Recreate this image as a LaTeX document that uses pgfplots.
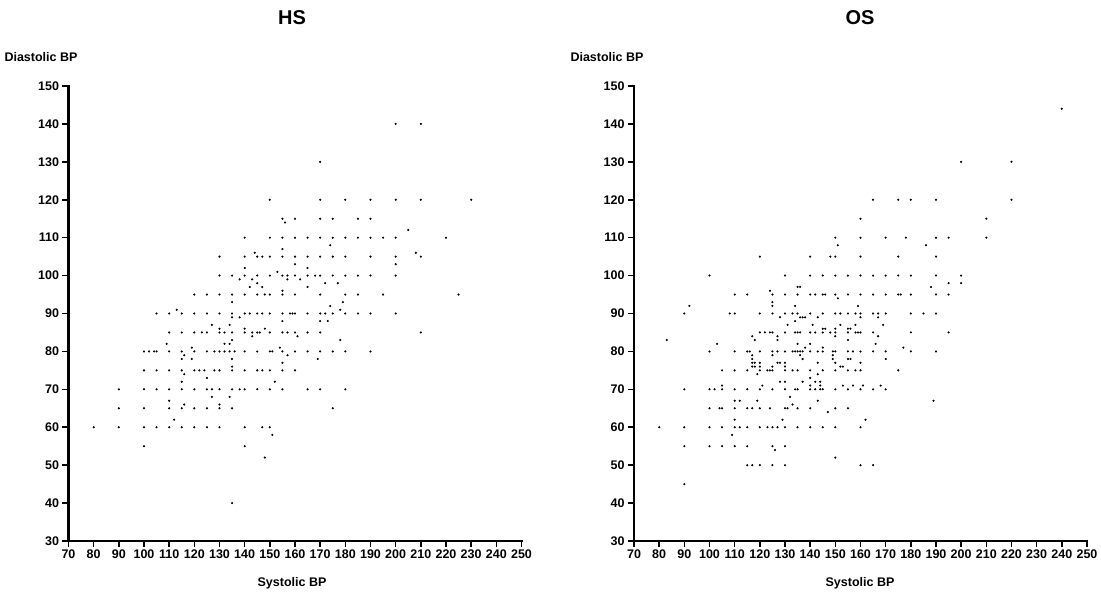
\documentclass[border=0pt]{standalone}
\usepackage{fontspec}
\setmainfont{Liberation Sans}
\usepackage{pgfplots}
\pgfplotsset{compat=1.18}
\begin{document}
\begin{tikzpicture}[x=1pt,y=1pt]
\useasboundingbox (0,0) rectangle (1101,597);
\pgfplotsset{
 bp/.style={
  scale only axis, width=453pt, height=455pt,
  xmin=70,xmax=250,ymin=30,ymax=150,
  xtick={70,80,...,250}, ytick={30,40,...,150},
  axis x line*=bottom, axis y line*=left,
  axis line style={-, line width=2.6pt, line cap=rect},
  tick style={line width=1.6pt, black},
  major tick length=6pt, tick align=outside,
  tick label style={font=\bfseries\fontsize{12.5}{13}\selectfont},
  xticklabel style={yshift=1pt},
  /pgf/number format/assume math mode=true,
  clip=false,
 },
 pts/.style={only marks, mark=*, mark size=0.85pt, black},
}
\begin{axis}[bp, at={(68.5pt,56pt)}, anchor=south west]
\addplot[pts] coordinates {
(130,105)(130,100)(120,95)(125,95)(130,95)(105,90)(110,90)(113,91)(115,90)(120,90)(125,90)(130,90)
(170,130)(150,120)(170,120)(180,120)
(155,115)(160,115)(170,115)(175,115)(185,115)(156,114)
(140,110)(150,110)(155,110)(160,110)(165,110)(170,110)(175,110)(180,110)(185,110)
(174,108)(155,107)
(140,105)(145,105)(147,105)(144,106)(150,105)(155,105)(160,105)(165,105)(170,105)(175,105)(180,105)
(160,103)(140,102)(165,102)
(135,100)(140,100)(145,100)(150,100)(155,100)(157,100)(160,100)(165,100)(168,100)(170,100)(175,100)(180,100)(185,100)
(153,101)(138,99)(143,99)(157,99)(162,99)(145,98)(172,98)(177,98)(142,97)(147,97)(165,97)(155,96)
(135,95)(140,95)(145,95)(148,95)(150,95)(155,95)(160,95)(170,95)(180,95)(185,95)
(135,93)(179,93)(174,92)(178,91)
(135,90)(140,90)(142,90)(145,90)(147,90)(150,90)(155,90)(158,90)(159,90)(160,90)(165,90)(170,90)(172,90)(175,90)(180,90)(185,90)
(135,89)(138,89)
(200,140)(210,140)(190,120)(200,120)(210,120)(230,120)(190,115)(205,112)(190,110)(195,110)(200,110)(220,110)
(208,106)(190,105)(200,105)(210,105)(200,103)(190,100)(200,100)(195,95)(225,95)(190,90)(200,90)
(127,87)(110,85)(115,85)(120,85)(123,85)(125,85)(130,85)(109,82)
(100,80)(102,80)(104,80)(105,80)(110,80)(115,80)(120,80)(125,80)(128,80)(119,81)(116,79)(115,78)(119,78)
(100,75)(105,75)(110,75)(115,75)(116,74)(120,75)(122,75)(124,75)(128,75)(125,73)(115,72)
(90,70)(100,70)(105,70)(110,70)(115,70)(120,70)(125,70)(127,70)(130,70)(127,68)(110,67)
(90,65)(100,65)(110,65)(115,65)(120,65)(125,65)(130,65)(116,66)(130,66)(112,62)
(80,60)(90,60)(100,60)(105,60)(110,60)(115,60)(120,60)(125,60)(130,60)(100,55)
(134,87)(155,88)(170,88)(173,88)(140,86)(148,86)
(132,85)(135,85)(140,85)(143,85)(145,85)(146,85)(150,85)(155,85)(157,85)(160,85)(165,85)(170,85)
(130,86)(143,84)(161,84)(135,83)(178,83)(132,82)(134,82)(154,81)
(130,80)(132,80)(134,80)(136,80)(140,80)(145,80)(150,80)(151,80)(155,80)(160,80)(165,80)(170,80)(175,80)(180,80)
(157,79)(135,78)(169,78)(155,77)(135,76)
(130,75)(135,75)(140,75)(145,75)(147,75)(150,75)(155,75)(160,75)
(152,72)
(135,70)(138,70)(140,70)(145,70)(150,70)(155,70)(165,70)(170,70)(180,70)
(134,68)(135,65)(175,65)
(140,60)(147,60)(150,60)(151,58)(140,55)(148,52)(135,40)
(210,85)(190,80)
};
\end{axis}
\begin{axis}[bp, at={(634pt,56pt)}, anchor=south west]
\addplot[pts] coordinates {
(120,105)(100,100)(130,100)(135,97)(136,97)
(165,120)(175,120)(180,120)(190,120)(160,115)(150,110)(160,110)(170,110)(178,110)(190,110)(151,108)(186,108)
(140,105)(148,105)(150,105)(160,105)(175,105)(190,105)
(140,100)(145,100)(150,100)(155,100)(160,100)(165,100)(170,100)(175,100)(180,100)(190,100)(188,97)
(240,144)(200,130)(220,130)(220,120)(210,115)(195,110)(210,110)(200,100)(195,98)(200,98)
(110,95)(115,95)(125,95)(130,95)(135,95)(124,96)(125,93)(125,92)(92,92)(134,92)
(90,90)(108,90)(110,90)(120,90)(125,90)(130,90)(133,90)(135,90)(128,89)(137,89)(134,88)(131,87)
(120,85)(122,85)(124,85)(125,85)(130,85)(134,85)(135,85)(136,85)(117,84)(127,84)(83,83)(103,82)(127,83)(118,83)
(100,80)(110,80)(115,80)(116,80)(120,80)(125,80)(127,80)(130,80)(133,80)(134,80)(135,80)(136,80)(137,80)
(136,79)(117,79)(125,79)(117,78)(137,78)
(117,77)(118,77)(120,77)(127,77)(128,77)(130,77)(117,76)(118,76)(120,76)(125,76)(130,76)
(105,75)(110,75)(115,75)(120,75)(123,75)(124,75)(125,75)(130,75)(133,75)(135,75)(119,74)(137,72)(128,72)(130,72)(105,71)(121,71)
(90,70)(100,70)(102,70)(105,70)(110,70)(115,70)(120,70)(125,70)(130,70)(134,70)(135,70)
(132,68)(110,67)(112,67)(119,67)(133,66)
(100,65)(104,65)(105,65)(110,65)(115,65)(117,65)(120,65)(124,65)(130,65)(131,65)(135,65)
(110,62)(129,62)
(90,60)(100,60)(105,60)(110,60)(112,60)(115,60)(120,60)(123,60)(125,60)(127,60)(130,60)(135,60)(109,58)
(90,55)(100,55)(105,55)(110,55)(115,55)(125,55)(130,55)(126,54)
(115,50)(117,50)(120,50)(125,50)(130,50)(90,45)(80,60)
(140,95)(142,95)(145,95)(146,95)(150,95)(155,95)(160,95)(165,95)(170,95)(175,95)(176,95)(180,95)(190,95)(151,94)(159,92)
(140,90)(145,90)(150,90)(152,90)(155,90)(158,90)(160,90)(165,90)(167,90)(170,90)(180,90)(185,90)(190,90)
(136,89)(138,89)(143,89)(160,89)(167,89)(141,87)(152,87)(158,87)(169,87)
(145,86)(146,86)(150,86)(155,86)(156,86)
(140,85)(142,85)(145,85)(148,85)(150,85)(155,85)(158,85)(159,85)(160,85)(165,85)(180,85)
(150,84)(167,84)(155,83)(135,82)(140,82)(166,82)(138,81)(145,81)(177,81)
(140,80)(143,80)(145,80)(149,80)(150,80)(155,80)(157,80)(160,80)(165,80)(170,80)(180,80)(190,80)
(149,79)(149,78)(155,78)(156,78)(170,78)(143,77)(150,77)(160,77)(152,76)(153,76)
(140,75)(145,75)(150,75)(155,75)(158,75)(160,75)(175,75)(143,74)(140,73)(142,72)(144,72)
(140,71)(144,71)(153,71)(157,71)(161,71)(168,71)
(140,70)(142,70)(144,70)(145,70)(150,70)(155,70)(160,70)(165,70)(170,70)
(143,67)(189,67)(140,65)(150,65)(155,65)(147,64)(162,62)(140,60)(145,60)(150,60)(160,60)(150,52)(160,50)(165,50)
(195,95)(195,85)
};
\end{axis}
\node[font=\bfseries\fontsize{20}{22}\selectfont] at (292,579) {HS};
\node[font=\bfseries\fontsize{20}{22}\selectfont] at (860,579) {OS};
\node[font=\bfseries\fontsize{12.5}{13}\selectfont, anchor=west] at (1,540) {Diastolic BP};
\node[font=\bfseries\fontsize{12.5}{13}\selectfont, anchor=west] at (567,540) {Diastolic BP};
\node[font=\bfseries\fontsize{12.5}{13}\selectfont] at (292,14) {Systolic BP};
\node[font=\bfseries\fontsize{12.5}{13}\selectfont] at (860,14) {Systolic BP};
\end{tikzpicture}
\end{document}
